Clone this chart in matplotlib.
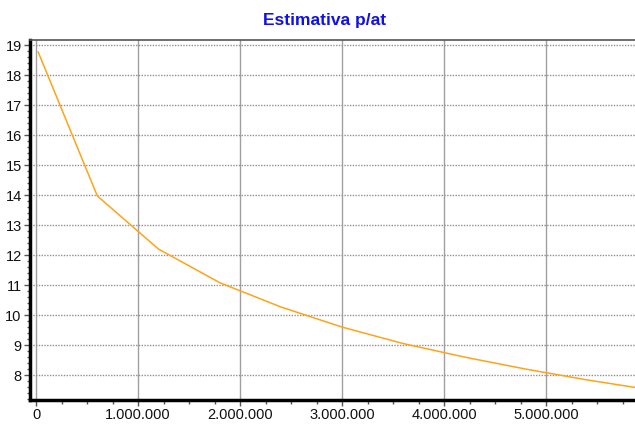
import matplotlib
matplotlib.use("Agg")
import matplotlib.pyplot as plt
from matplotlib.ticker import FuncFormatter, MultipleLocator

# valores
valores_x = [20000, 600000, 1200000, 1800000, 2400000, 3000000,
             3600000, 4200000, 4800000, 5400000, 6000000]
valores_y = [18.77, 13.97, 12.2, 11.08, 10.27, 9.6,
             9.05, 8.6, 8.2, 7.84, 7.52]
titulo = "Estimativa p/at"

plt.rcParams['font.family'] = ['Liberation Sans', 'DejaVu Sans']

fig = plt.figure(figsize=(6.35, 4.25), dpi=100)
ax = fig.add_axes([30 / 635, 25 / 425, 605 / 635, 360 / 425])

ax.plot(valores_x, valores_y, color="#ffa31a", linewidth=1.1)

ax.set_xlim(-60000, 5870000)
ax.set_ylim(7.17, 19.17)

ax.xaxis.set_major_locator(MultipleLocator(1000000))
ax.xaxis.set_minor_locator(MultipleLocator(250000))
ax.yaxis.set_major_locator(MultipleLocator(1))
ax.yaxis.set_minor_locator(MultipleLocator(0.2))
ax.xaxis.set_major_formatter(FuncFormatter(lambda v, p: f"{int(v):,}".replace(",", ".")))

ax.grid(axis="x", which="major", color="#a0a0a0", linestyle="-", linewidth=1)
ax.grid(axis="y", which="major", color="#909090", linestyle=(0, (1, 1)), linewidth=1)

for lado in ["left", "bottom"]:
    ax.spines[lado].set_linewidth(2.5)
    ax.spines[lado].set_color("black")
ax.spines["top"].set_color("#555555")
ax.spines["top"].set_linewidth(1.2)
ax.spines["right"].set_visible(False)

ax.tick_params(axis="both", which="both", labelsize=10.5, colors="#555555",
               labelcolor="#111111", width=1)
ax.tick_params(axis="x", which="major", length=4, pad=2)
ax.tick_params(axis="x", which="minor", length=3)
ax.tick_params(axis="y", which="major", length=4, pad=2)
ax.tick_params(axis="y", which="minor", length=2)

fig.text(325 / 635, 1 - 20 / 425, titulo, color="#1010ee", fontsize=12.5,
         fontweight="bold", ha="center", va="center")

fig.savefig("out.png", dpi=100)
